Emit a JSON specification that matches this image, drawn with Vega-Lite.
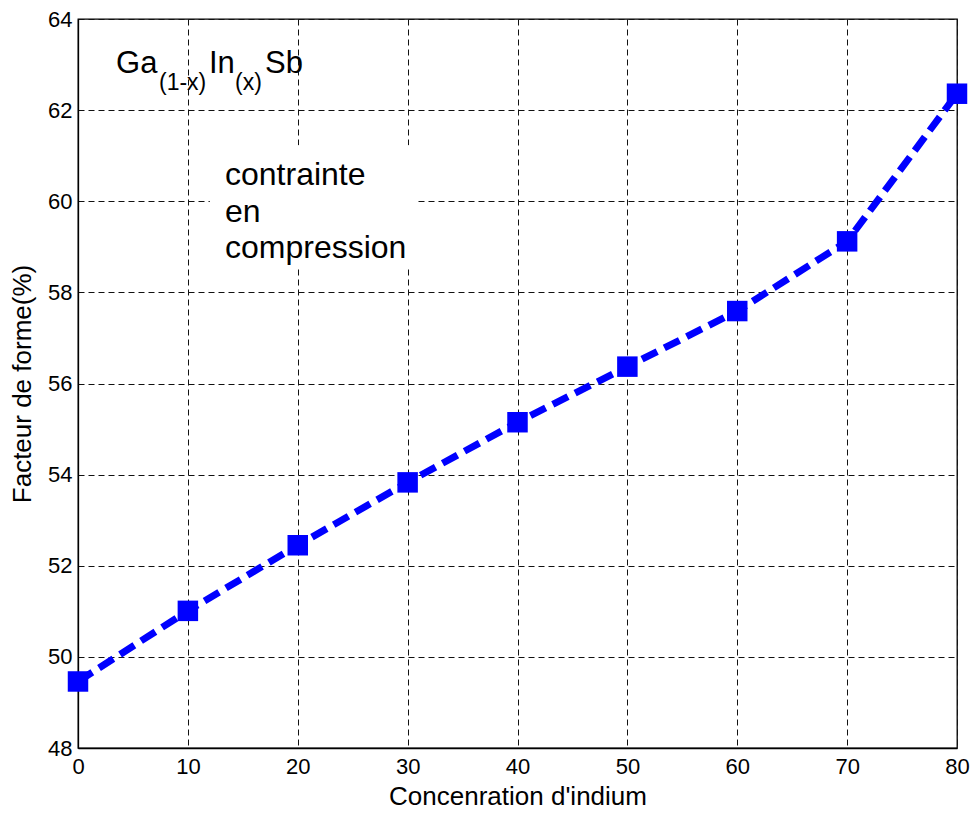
{
  "$schema": "https://vega.github.io/schema/vega-lite/v6.json",
  "width": 879,
  "height": 729,
  "autosize": {"type": "none"},
  "padding": {"left": 78, "top": 19, "right": 16, "bottom": 66},
  "background": "white",
  "config": {
    "font": "Liberation Sans",
    "view": {"stroke": "black", "strokeWidth": 1.3},
    "axis": {
      "domainColor": "black",
      "domainWidth": 1.3,
      "grid": true,
      "gridColor": "#111111",
      "gridDash": [6, 4],
      "gridWidth": 1,
      "ticks": false,
      "labelColor": "black",
      "labelFont": "Liberation Sans",
      "labelFontSize": 22,
      "titleColor": "black",
      "titleFont": "Liberation Sans",
      "titleFontSize": 26,
      "titleFontWeight": "normal"
    }
  },
  "datasets": {
    "facteur": [
      {"x": 0, "f": 49.46},
      {"x": 10, "f": 51.01},
      {"x": 20, "f": 52.45},
      {"x": 30, "f": 53.83},
      {"x": 40, "f": 55.15},
      {"x": 50, "f": 56.37},
      {"x": 60, "f": 57.59},
      {"x": 70, "f": 59.12},
      {"x": 80, "f": 62.36}
    ],
    "formule": [
      {"x": 3.46, "y": 62.815, "t": "Ga"},
      {"x": 11.92, "y": 62.815, "t": "In"},
      {"x": 17.02, "y": 62.815, "t": "Sb"}
    ],
    "indices": [
      {"x": 7.37, "y": 62.44, "t": "(1-x)"},
      {"x": 14.29, "y": 62.44, "t": "(x)"}
    ],
    "cadre": [
      {"x0": 12.0, "x1": 30.85, "y0": 58.53, "y1": 61.23}
    ],
    "note": [
      {"x": 13.38, "y": 60.356, "t": "contrainte"},
      {"x": 13.38, "y": 59.544, "t": "en"},
      {"x": 13.38, "y": 58.754, "t": "compression"}
    ]
  },
  "layer": [
    {
      "data": {"name": "cadre"},
      "mark": {"type": "rect", "fill": "white", "stroke": null},
      "encoding": {
        "x": {"field": "x0", "type": "quantitative", "scale": {"domain": [0, 80], "nice": false, "zero": false},
              "axis": {"values": [0, 10, 20, 30, 40, 50, 60, 70, 80], "title": "Concenration d'indium", "labelPadding": 8, "titlePadding": 6, "labelFlush": false}},
        "x2": {"field": "x1"},
        "y": {"field": "y0", "type": "quantitative", "scale": {"domain": [48, 64], "nice": false, "zero": false},
              "axis": {"values": [48, 50, 52, 54, 56, 58, 60, 62, 64], "title": "Facteur de forme(%)", "labelPadding": 6, "titlePadding": 12, "labelFlush": false}},
        "y2": {"field": "y1"}
      }
    },
    {
      "data": {"name": "facteur"},
      "mark": {"type": "line", "color": "#0000FF", "strokeWidth": 7, "strokeDash": [17, 8], "strokeCap": "butt"},
      "encoding": {
        "x": {"field": "x", "type": "quantitative"},
        "y": {"field": "f", "type": "quantitative"}
      }
    },
    {
      "data": {"name": "facteur"},
      "mark": {"type": "point", "shape": "square", "filled": true, "size": 420, "color": "#0000FF", "opacity": 1},
      "encoding": {
        "x": {"field": "x", "type": "quantitative"},
        "y": {"field": "f", "type": "quantitative"}
      }
    },
    {
      "data": {"name": "formule"},
      "mark": {"type": "text", "align": "left", "baseline": "alphabetic", "fontSize": 31, "font": "Liberation Sans", "color": "black"},
      "encoding": {
        "x": {"field": "x", "type": "quantitative"},
        "y": {"field": "y", "type": "quantitative"},
        "text": {"field": "t"}
      }
    },
    {
      "data": {"name": "indices"},
      "mark": {"type": "text", "align": "left", "baseline": "alphabetic", "fontSize": 23, "font": "Liberation Sans", "color": "black"},
      "encoding": {
        "x": {"field": "x", "type": "quantitative"},
        "y": {"field": "y", "type": "quantitative"},
        "text": {"field": "t"}
      }
    },
    {
      "data": {"name": "note"},
      "mark": {"type": "text", "align": "left", "baseline": "alphabetic", "fontSize": 32, "font": "Liberation Sans", "color": "black"},
      "encoding": {
        "x": {"field": "x", "type": "quantitative"},
        "y": {"field": "y", "type": "quantitative"},
        "text": {"field": "t"}
      }
    }
  ]
}
